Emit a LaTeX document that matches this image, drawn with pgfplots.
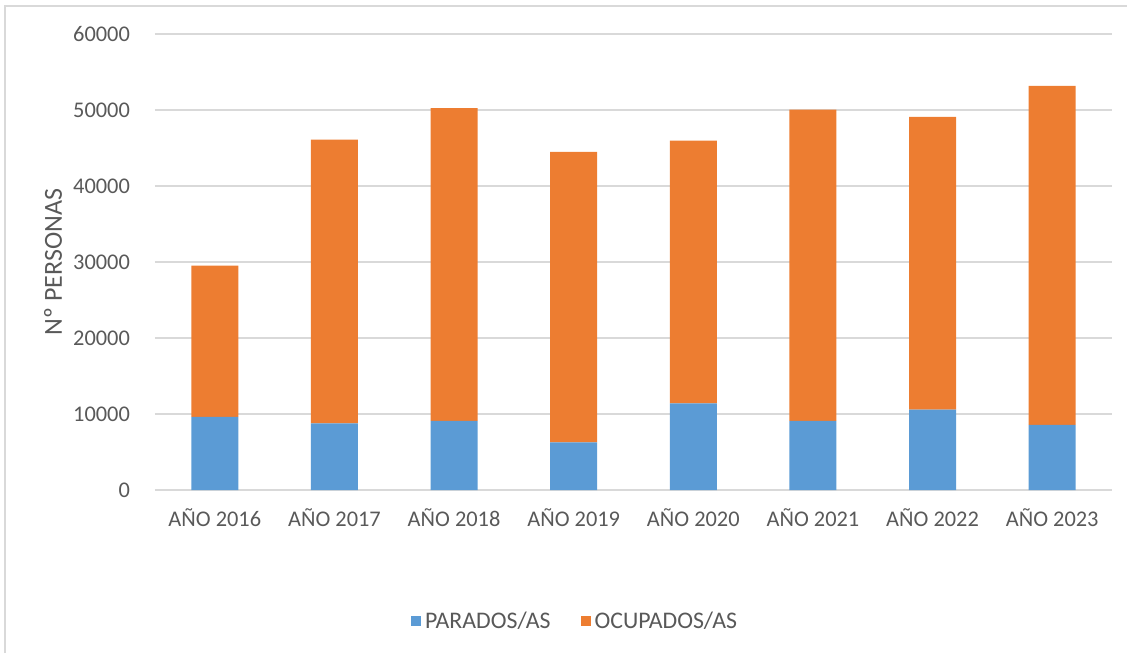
\documentclass[border=0pt]{standalone}
\usepackage{pgfplots}
\pgfplotsset{compat=1.18}
\usepackage{fontspec}
\setmainfont{Carlito}
\definecolor{txt}{HTML}{595959}
\definecolor{cblue}{HTML}{5B9BD5}
\definecolor{corange}{HTML}{ED7D31}
\definecolor{gridc}{HTML}{D9D9D9}
\begin{document}
\begin{tikzpicture}[x=0.5pt,y=0.5pt]
\useasboundingbox (-155,-163) rectangle (972,490);
\draw[gridc, line width=0.75pt] (-150,-163) -- (-150,484) -- (972,484);
\begin{axis}[
  at={(0,0)}, anchor=south west, scale only axis,
  width=478.5pt, height=228pt,
  ybar stacked, bar width=23.5pt,
  xmin=-0.5, xmax=7.5, ymin=0, ymax=60000,
  ytick={0,10000,...,60000},
  xtick={0,...,7},
  xticklabels={AÑO 2016,AÑO 2017,AÑO 2018,AÑO 2019,AÑO 2020,AÑO 2021,AÑO 2022,AÑO 2023},
  axis x line*=bottom, axis y line*=left,
  x axis line style={draw=gridc, line width=1pt},
  y axis line style={draw=none},
  major tick length=0pt,
  ymajorgrids, grid style={draw=gridc, line width=1pt},
  scaled y ticks=false,
  /pgf/number format/1000 sep={},
  /pgf/number format/fixed,
  /pgf/number format/assume math mode=true,
  ticklabel style={font=\fontsize{11.2}{13}\selectfont, text=txt},
  yticklabel style={xshift=-9pt},
  xticklabel style={yshift=-6pt},
  ylabel={Nº PERSONAS},
  ylabel style={at={(axis description cs:-0.1066,0.5)}, anchor=center, font=\fontsize{13}{15}\selectfont, text=txt},
  legend style={at={(axis description cs:0.440,-0.289)}, anchor=center, draw=none,
    font=\fontsize{11.9}{14}\selectfont, text=txt, legend columns=2,
    /tikz/every even column/.append style={column sep=13pt}},
  legend image code/.code={\fill[#1] (0pt,-2.3pt) rectangle (5pt,2.7pt);},
]
\addplot[fill=cblue, draw=none] coordinates {(0,9620) (1,8780) (2,9090) (3,6280) (4,11400) (5,9090) (6,10580) (7,8570)};
\addlegendentry{PARADOS/AS}
\addplot[fill=corange, draw=none] coordinates {(0,19920) (1,37320) (2,41160) (3,38200) (4,34570) (5,40950) (6,38500) (7,44620)};
\addlegendentry{OCUPADOS/AS}
\end{axis}
\end{tikzpicture}
\end{document}
